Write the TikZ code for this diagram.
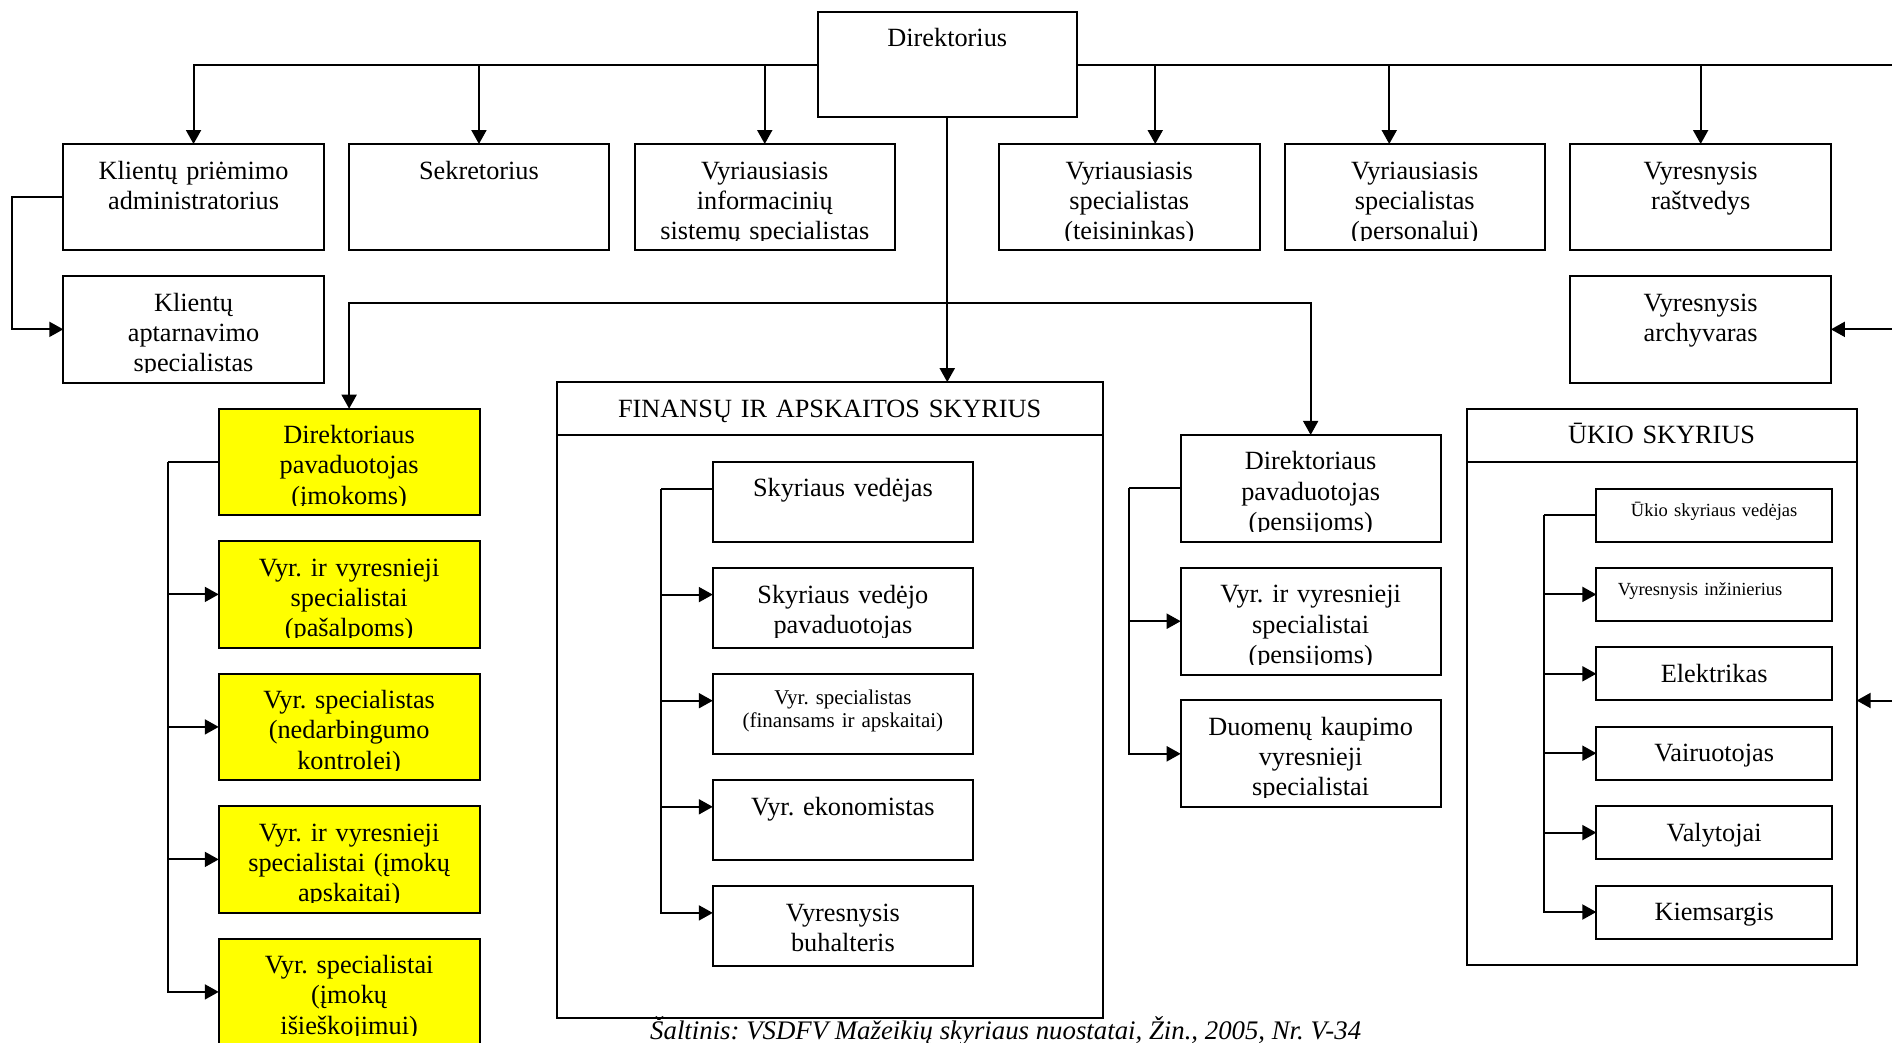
\documentclass[tikz,border=0pt]{standalone}
\usepackage{fontspec}
\setmainfont{Liberation Serif}
\usetikzlibrary{arrows.meta}
\definecolor{hiliteyellow}{RGB}{255,255,0}
\frenchspacing

\tikzset{
  orgbox/.style={draw, line width=2pt, rectangle, inner sep=0pt, outer sep=0pt},
  lbl/.style={font=\fontsize{26.3}{30.2}\selectfont, align=center, text width=232pt,
              inner sep=0pt, anchor=base},
  smalllbl/.style={font=\fontsize{21}{23.4}\selectfont, yshift=4.6pt},
  tinylbl/.style={font=\fontsize{18.5}{22}\selectfont, yshift=7.5pt},
  hilite/.style={fill=hiliteyellow},
  wire/.style={line width=2pt},
  arr/.style={line width=2pt, -{Triangle[length=14pt,width=15pt]}},
}

% #1 name, #2 left x, #3 top y, #4 width, #5 height, #6 box style, #7 label style, #8 text
\newcommand{\placebox}[8]{%
  \node[orgbox, #6, minimum width=#4pt, minimum height=#5pt, anchor=north west] (#1) at (#2,#3) {};
  \begin{scope}
    \clip (#2,#3) rectangle ++(#4,#5-10);
    \node[lbl, #7] (#1-t) at (#2+#4/2,#3+35) {#8};
  \end{scope}}

\begin{document}
\begin{tikzpicture}[x=1pt, y=-1pt]
\useasboundingbox (0,0) rectangle (1892,1042);
\fill[white] (0,0) rectangle (1892,1042);
\clip (0,0) rectangle (1892,1042);

% top level
\placebox{dir}{817.5}{11.7}{259.5}{105.6}{}{}{Direktorius}
\placebox{klp}{63.3}{144}{260.5}{106}{}{}{Klientų priėmimo\\administratorius}
\placebox{sek}{348.7}{144}{260.5}{106}{}{}{Sekretorius}
\placebox{vis}{634.5}{144}{260.5}{106}{}{}{Vyriausiasis\\informacinių\\sistemų specialistas}
\placebox{tei}{999}{144}{260.5}{106}{}{}{Vyriausiasis\\specialistas\\(teisininkas)}
\placebox{per}{1284.5}{144}{260.5}{106}{}{}{Vyriausiasis\\specialistas\\(personalui)}
\placebox{ras}{1570.4}{144}{260.5}{106}{}{}{Vyresnysis\\raštvedys}
\placebox{kla}{63.3}{276}{260.5}{106.7}{}{}{Klientų\\aptarnavimo\\specialistas}
\placebox{arc}{1570.4}{276}{260.5}{106.7}{}{}{Vyresnysis\\archyvaras}

% contributions column
\placebox{y1}{218.75}{408.7}{260.75}{106.4}{hilite}{}{Direktoriaus\\pavaduotojas\\(įmokoms)}
\placebox{y2}{218.75}{541.2}{260.75}{106.4}{hilite}{}{Vyr. ir vyresnieji\\specialistai\\(pašalpoms)}
\placebox{y3}{218.75}{673.7}{260.75}{106.4}{hilite}{}{Vyr. specialistas\\(nedarbingumo\\kontrolei)}
\placebox{y4}{218.75}{806.2}{260.75}{106.4}{hilite}{}{Vyr. ir vyresnieji\\specialistai (įmokų\\apskaitai)}
\placebox{y5}{218.75}{938.7}{260.75}{106.4}{hilite}{}{Vyr. specialistai\\(įmokų\\išieškojimui)}

% finance department
\node[orgbox, minimum width=545.5pt, minimum height=636.3pt, anchor=north west] (fin) at (557,382.1) {};
\placebox{finhead}{557}{382.1}{545.5}{52.8}{}{text width=540pt}{FINANSŲ IR APSKAITOS SKYRIUS}
\placebox{f1}{712.8}{461.9}{260.2}{79.8}{}{}{Skyriaus vedėjas}
\placebox{f2}{712.8}{568.0}{260.2}{79.8}{}{}{Skyriaus vedėjo\\pavaduotojas}
\placebox{f3}{712.8}{674.1}{260.2}{79.8}{}{smalllbl}{Vyr. specialistas\\(finansams ir apskaitai)}
\placebox{f4}{712.8}{780.2}{260.2}{79.8}{}{}{Vyr. ekonomistas}
\placebox{f5}{712.8}{886.3}{260.2}{79.8}{}{}{Vyresnysis\\buhalteris}

% pensions column
\placebox{p1}{1180.7}{434.9}{259.9}{106.8}{}{}{Direktoriaus\\pavaduotojas\\(pensijoms)}
\placebox{p2}{1180.7}{567.8}{259.9}{106.8}{}{}{Vyr. ir vyresnieji\\specialistai\\(pensijoms)}
\placebox{p3}{1180.7}{700.4}{259.9}{106.8}{}{}{Duomenų kaupimo\\vyresnieji\\specialistai}

% maintenance department
\node[orgbox, minimum width=390pt, minimum height=556.5pt, anchor=north west] (ukio) at (1466.6,408.7) {};
\placebox{ukiohead}{1466.6}{408.7}{390}{52.8}{}{text width=380pt}{ŪKIO SKYRIUS}
\placebox{u1}{1596.3}{488.5}{235.7}{53}{}{tinylbl}{Ūkio skyriaus vedėjas}
\placebox{u2}{1596.3}{567.9}{235.7}{53}{}{tinylbl, xshift=-14pt}{Vyresnysis inžinierius}
\placebox{u3}{1596.3}{647.3}{235.7}{53}{}{}{Elektrikas}
\placebox{u4}{1596.3}{726.7}{235.7}{53}{}{}{Vairuotojas}
\placebox{u5}{1596.3}{806.1}{235.7}{53}{}{}{Valytojai}
\placebox{u6}{1596.3}{885.5}{235.7}{53}{}{}{Kiemsargis}

% source line
\node[font=\itshape\fontsize{26.8}{30}\selectfont, anchor=base, inner sep=0pt] (src)
  at (1005.7,1039.5) {Šaltinis: VSDFV Mažeikių skyriaus nuostatai, Žin., 2005, Nr. V-34};

% top bus from the director
\coordinate (busend) at (1892,0);
\draw[arr] (dir.west) -| (klp.north);
\draw[arr] (sek.north |- dir.west) -- (sek.north);
\draw[arr] (vis.north |- dir.west) -- (vis.north);
\draw[wire] (dir.east) -- (dir.east -| busend);
\draw[arr] ([xshift=26pt]tei.north |- dir.east) -- ([xshift=26pt]tei.north);
\draw[arr] ([xshift=-25.5pt]per.north |- dir.east) -- ([xshift=-25.5pt]per.north);
\draw[arr] (ras.north |- dir.east) -- (ras.north);

% reception to client service
\draw[arr] (klp.west) -- ++(-51.8,0) |- (kla.west);

% director down to the departments and deputies
\draw[arr] (dir.south) -- (dir.south |- fin.north);
\coordinate (fork) at (947,303.3);
\draw[arr] (fork) -| (y1.north);
\draw[arr] (fork) -| (p1.north);

% contributions column
\coordinate (yb) at (167.9,0);
\draw[wire] (y1.west) -- (y1.west -| yb);
\foreach \i in {2,...,5} \draw[arr] (y1.west -| yb) |- (y\i.west);

% finance department
\coordinate (fb) at (661,0);
\draw[wire] ([yshift=-26.6pt]f1.north west) -- ([yshift=-26.6pt]f1.north west -| fb) coordinate (fbt);
\foreach \i in {2,...,5} \draw[arr] (fbt) |- ([yshift=-26.6pt]f\i.north west);

% pensions column
\coordinate (pb) at (1129.3,0);
\draw[wire] (p1.west) -- (p1.west -| pb);
\foreach \i in {2,3} \draw[arr] (p1.west -| pb) |- (p\i.west);

% maintenance department
\coordinate (ub) at (1544.2,0);
\draw[wire] (u1.west) -- (u1.west -| ub);
\foreach \i in {2,...,6} \draw[arr] (u1.west -| ub) |- (u\i.west);

% links entering from the right
\coordinate (edgeA) at (1892,329.3);
\draw[arr] (arc.east -| edgeA) -- (arc.east);
\coordinate (edgeB) at (1892,700.5);
\draw[arr] (edgeB) -- (edgeB -| ukio.east);
\end{tikzpicture}
\end{document}
